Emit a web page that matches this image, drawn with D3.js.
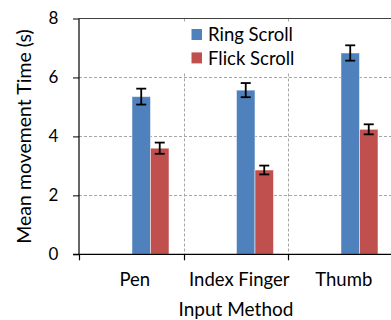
<!DOCTYPE html>
<html>
<head>
<meta charset="utf-8">
<script src="https://cdn.jsdelivr.net/npm/d3@7"></script>
<style>
  html, body { margin: 0; padding: 0; background: #fff; }
  svg { display: block; font-family: Lato, "Open Sans", sans-serif; }
</style>
</head>
<body>
<svg id="chart" width="391" height="320"></svg>
<script>
const categories = ["Pen", "Index Finger", "Thumb"];
const series = ["Ring Scroll", "Flick Scroll"];
const ringValues = [5.35, 5.57, 6.83];
const ringErrors = [0.27, 0.24, 0.26];
const flickValues = [3.60, 2.86, 4.24];
const flickErrors = [0.19, 0.15, 0.17];
const yTicks = [0, 2, 4, 6, 8];
const colors = ["#4f81bd", "#c0504d"];

(function () {
const svg = d3.select("#chart");
const mLeft = 79, mTop = 18.5, mBottom = 254.3, mRight = 392.5;

const x0 = d3.scaleBand().domain(categories).range([mLeft, mRight]).padding(0);
const x1 = d3.scaleBand().domain(series).range([0, x0.bandwidth()])
  .paddingInner(0).paddingOuter(1.824).align(0.785);
const y = d3.scaleLinear().domain([0, 8]).range([mBottom, mTop]);

const data = categories.map((c, i) => ({
  cat: c,
  vals: [
    { s: series[0], v: ringValues[i], e: ringErrors[i], color: colors[0] },
    { s: series[1], v: flickValues[i], e: flickErrors[i], color: colors[1] }
  ]
}));

// horizontal gridlines
svg.append("g").selectAll("line").data(yTicks.filter(t => t > 0 && t < 8)).join("line")
  .attr("x1", mLeft).attr("x2", 391)
  .attr("y1", d => Math.round(y(d)) + 0.5).attr("y2", d => Math.round(y(d)) + 0.5)
  .attr("stroke", "#a6a6a6").attr("stroke-width", 1).attr("stroke-dasharray", "3,2");

// vertical gridlines at category boundaries
const bounds = categories.slice(1).map(c => x0(c));
svg.append("g").selectAll("line").data(bounds).join("line")
  .attr("x1", d => Math.round(d) + 0.5).attr("x2", d => Math.round(d) + 0.5)
  .attr("y1", y(8)).attr("y2", y(0))
  .attr("stroke", "#a6a6a6").attr("stroke-width", 1).attr("stroke-dasharray", "3,2");

// top border line
svg.append("line").attr("x1", mLeft).attr("x2", 391).attr("y1", y(8)).attr("y2", y(8))
  .attr("stroke", "#404040").attr("stroke-width", 1.2);

// legend background (covers gridlines)
svg.append("rect").attr("x", 184).attr("y", 22).attr("width", 118).attr("height", 50).attr("fill", "#fff");

// bars
const groups = svg.append("g").selectAll("g").data(data).join("g")
  .attr("transform", d => `translate(${x0(d.cat)},0)`);
groups.selectAll("rect").data(d => d.vals).join("rect")
  .attr("x", d => x1(d.s)).attr("width", x1.bandwidth())
  .attr("y", d => y(d.v)).attr("height", d => y(0) - y(d.v))
  .attr("fill", d => d.color)
  .attr("stroke", "rgba(255,255,255,0.5)").attr("stroke-width", 1);

// error bars
const eb = groups.selectAll("g.err").data(d => d.vals).join("g").attr("class", "err");
const cx = d => x1(d.s) + x1.bandwidth() / 2;
eb.append("line").attr("x1", cx).attr("x2", cx)
  .attr("y1", d => y(d.v + d.e)).attr("y2", d => y(d.v - d.e))
  .attr("stroke", "#000").attr("stroke-width", 1.8);
eb.append("line").attr("x1", d => cx(d) - 5).attr("x2", d => cx(d) + 5)
  .attr("y1", d => y(d.v + d.e)).attr("y2", d => y(d.v + d.e))
  .attr("stroke", "#000").attr("stroke-width", 1.8);
eb.append("line").attr("x1", d => cx(d) - 5).attr("x2", d => cx(d) + 5)
  .attr("y1", d => y(d.v - d.e)).attr("y2", d => y(d.v - d.e))
  .attr("stroke", "#000").attr("stroke-width", 1.8);

// y axis
const yAxis = svg.append("g").attr("transform", `translate(${mLeft},0)`)
  .call(d3.axisLeft(y).tickValues(yTicks).tickFormat(d3.format("d")).tickSize(6).tickPadding(14.7));
yAxis.select(".domain").attr("stroke", "#000").attr("stroke-width", 1.2).attr("d", `M0,${y(8)}V${y(0)}`);
yAxis.selectAll(".tick line").attr("stroke", "#000");
yAxis.selectAll("text").attr("font-size", 17).attr("fill", "#000").attr("font-family", "Lato").attr("dy", "0.3em");

// x axis
const xAxis = svg.append("g").attr("transform", `translate(0,${mBottom})`)
  .call(d3.axisBottom(x0).tickSize(0).tickPadding(0));
xAxis.select(".domain").attr("stroke", "#000").attr("stroke-width", 1.2).attr("d", `M${mLeft - 6},0H391`);
xAxis.selectAll("text").attr("font-size", 18.5).attr("fill", "#000").attr("font-family", "Lato")
  .attr("y", 31.7).attr("dy", null).attr("dx", 3.5);
xAxis.selectAll("line.bnd").data([mLeft].concat(bounds)).join("line").attr("class", "bnd")
  .attr("x1", d => Math.round(d) + 0.5).attr("x2", d => Math.round(d) + 0.5)
  .attr("y1", 0).attr("y2", 6).attr("stroke", "#000").attr("stroke-width", 1.2);

// legend
const lg = svg.append("g").selectAll("g").data(series).join("g")
  .attr("transform", (d, i) => `translate(191.5,${29 + i * 23.4})`);
lg.append("rect").attr("width", 10.5).attr("height", 11).attr("fill", (d, i) => colors[i]);
lg.append("text").attr("x", 16.5).attr("y", 12.3).text(d => d)
  .attr("font-size", 18.5).attr("fill", "#000");

// axis titles
svg.append("text").attr("x", 236).attr("y", 316).attr("text-anchor", "middle")
  .attr("font-size", 19).attr("fill", "#000").text("Input Method");
svg.append("text").attr("transform", "translate(30.5,136.5) rotate(-90)").attr("text-anchor", "middle")
  .attr("font-size", 19.5).attr("fill", "#000").text("Mean movement Time (s)");
})();
</script>
</body>
</html>
